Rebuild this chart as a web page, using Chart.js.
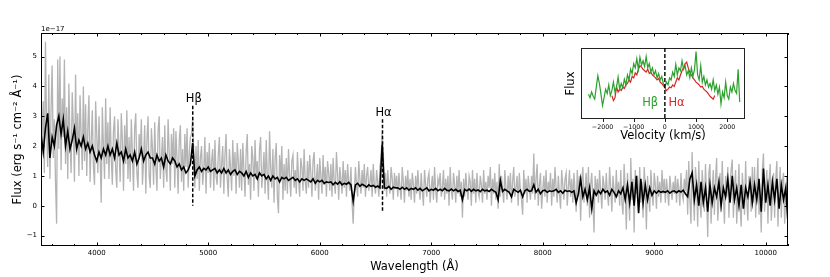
<!DOCTYPE html>
<html>
<head>
<meta charset="utf-8">
<script src="https://cdn.jsdelivr.net/npm/chart.js@4.4.1/dist/chart.umd.min.js"></script>
<style>
  body { margin: 0; background: #fff; }
  #wrap { position: relative; width: 830px; height: 277px; }
  #main { position: absolute; left: 0; top: 0; }
  #inset { position: absolute; left: 555px; top: 40px; }
</style>
</head>
<body>
<div id="wrap">
  <canvas id="main" width="830" height="277"></canvas>
  <canvas id="inset" width="200" height="104"></canvas>
</div>
<script>
const FONT = '"DejaVu Sans", sans-serif';

const WAVE_START = 3500;
const RAW_STEP = 10;     // raw spectrum every 10 A
const SMOOTH_STEP = 20;  // smoothed spectrum every 20 A

// raw flux (1e-17 erg/s/cm2/A), grey; one row = 200 A
const rawFlux = [
  4.1, 2.0, 3.5, 1.1, 5.5, 2.6, 1.3, 4.4, 0.9, 3.2, 4.7, 1.6, 2.9, 0.8, -0.6, 4.9, 1.9, 5.0, 1.2, 3.6,   // 3500
  2.3, 4.9, 1.4, 3.3, 0.9, 4.1, 2.2, 1.1, 3.8, 2.7, 0.8, 4.4, 1.7, 3.1, 1.0, 3.7, 2.4, 1.2, 4.0, 1.5,    // 3700
  3.4, 1.0, 2.6, 3.7, 0.8, 2.1, 3.2, 1.3, 0.7, 3.5, 2.4, 1.1, 3.0, 1.7, 0.1, 3.3, 2.0, 0.9, 3.6, 1.4,    // 3900
  2.8, 0.9, 3.3, 1.6, 0.7, 2.5, 3.0, 1.2, 0.6, 2.9, 1.9, 0.8, 3.1, 2.2, 0.5, 2.7, 1.4, 3.2, 0.9, 2.3,    // 4100
  0.8, 2.9, 1.7, 0.5, 2.6, 3.1, 1.1, 0.6, 2.4, 1.8, 2.9, 0.7, 1.5, 2.7, 0.4, 2.2, 3.0, 1.0, 0.6, 2.6,    // 4300
  1.9, 0.7, 2.8, 1.3, 0.5, 2.5, 3.0, 0.9, 1.6, 2.3, 0.6, 2.7, 1.2, 0.8, 2.9, 1.8, 0.5, 2.4, 1.4, 2.6,    // 4500
  0.6, 2.5, 1.6, 0.4, 2.2, 2.7, 0.8, 1.9, 0.5, 2.4, 1.3, 2.6, 0.6, 1.8, 2.3, 2.4, 2.9, 1.8, 0.6, 2.0,    // 4700
  0.9, 2.2, 0.5, 1.6, 2.0, 0.7, 1.2, 2.3, 0.4, 1.8, 1.1, 2.1, 0.6, 1.5, 1.9, 0.5, 2.2, 1.0, 0.7, 1.7,    // 4900
  2.3, 0.6, 1.4, 2.0, 0.4, 1.7, 2.4, 0.9, 0.3, 1.9, 1.3, 0.5, 2.2, 1.0, 1.8, 0.4, 2.1, 1.5, 0.6, 1.9,    // 5100
  0.5, 2.1, 1.2, 0.3, 1.8, 2.4, 0.7, 1.4, 0.2, 2.0, 1.6, 0.5, 2.2, 0.9, 1.5, 0.3, 1.9, 2.3, 0.6, 1.1,    // 5300
  1.8, 0.4, 2.2, 1.0, 0.2, 2.5, 1.3, 0.6, 1.9, 0.1, 1.6, 2.1, 0.3, -0.25, 1.7, 0.9, 2.0, 0.2, 1.4, 0.5,  // 5500
  1.6, 0.4, 1.9, 1.0, 0.3, 1.5, 1.7, 0.6, 1.2, 0.4, 1.8, 0.9, 0.3, 1.6, 1.3, 0.5, 1.9, 0.8, 0.4, 1.5,    // 5700
  0.6, 1.7, 1.1, 0.3, 1.5, 1.8, 0.5, 0.9, 1.4, 0.2, 1.6, 1.0, 0.4, 1.7, 0.7, 1.3, 0.3, 1.5, 1.1, 0.5,    // 5900
  1.4, 0.3, 1.6, 0.8, 0.4, 1.8, 1.1, 0.2, 1.3, 0.9, 0.4, 1.5, 0.6, 1.2, 0.3, 1.4, 0.8, 0.5, 1.3, 0.1,    // 6100
  -0.6, 0.4, 1.3, 0.7, 0.3, 1.5, 0.9, 0.4, 1.2, 0.6, 1.4, 0.3, 1.0, 1.3, 0.5, 0.8, 1.2, 0.3, 1.4, 0.7,   // 6300
  0.4, 1.2, 0.8, 0.3, 1.3, 1.6, 2.45, 1.8, 0.5, 1.1, 0.3, 1.2, 0.7, 0.4, 1.3, 0.9, 0.2, 1.1, 0.6, 1.0,   // 6500
  0.3, 1.1, 0.6, 0.2, 1.3, 0.8, 0.1, 1.0, 0.5, 1.2, 0.3, 0.9, 0.2, 1.1, 0.7, 0.1, 1.0, 0.4, 1.2, 0.6,    // 6700
  0.2, 1.1, 0.5, 0.0, 1.2, 0.7, 0.3, 0.9, 1.1, 0.1, 0.6, 1.0, 0.2, 1.3, 0.5, 0.1, 0.9, 0.7, 1.1, 0.3,    // 6900
  0.6, 1.2, 0.2, 0.9, 0.4, 1.0, 0.0, 1.3, 0.5, 0.2, 1.1, 0.7, 0.1, 1.0, 0.4, 1.2, 0.3, 0.8, -0.4, 0.9,   // 7100
  0.3, 1.1, 0.6, 0.2, 1.0, 0.8, 0.0, 1.2, 0.4, 0.9, 0.1, 1.1, 0.5, 0.3, 1.0, 0.7, 0.1, 1.2, 0.4, 0.8,    // 7300
  0.2, 1.0, 0.6, 1.3, 0.0, 0.9, 0.4, 1.1, 0.2, 0.8, -0.1, 1.4, 0.3, 1.0, 0.5, 0.1, 1.2, 0.6, 0.2, 1.0,   // 7500
  0.4, 1.1, 0.1, 0.8, 1.3, 0.3, 0.6, 1.0, 0.0, 1.1, 0.5, 0.2, -0.3, 1.2, 0.4, 0.9, 0.1, 1.0, 0.6, 0.2,   // 7700
  1.0, 0.4, 1.75, 0.2, 0.9, 1.4, 0.0, 0.7, 1.1, -0.1, 0.5, 1.0, 0.3, 1.2, 0.1, 0.8, 0.5, 1.1, 0.0, 0.9,  // 7900
  0.3, 1.3, 0.6, 0.1, 1.0, 0.4, -0.1, 1.2, 0.7, 0.2, 0.9, 1.1, 0.0, 0.6, 1.2, 0.3, 0.9, 0.1, 1.1, 0.5,   // 8100
  -0.2, 1.2, 0.4, 1.0, -0.5, 0.8, 1.3, 0.1, 0.6, 1.1, 0.0, 1.3, -0.4, 0.7, 1.1, 0.2, -0.9, 1.0, 0.4, 0.9, // 8300
  0.1, 1.2, 0.5, -0.1, 1.0, 0.7, 0.2, 1.1, 0.4, 0.0, 1.3, 0.6, -0.2, 1.0, 0.5, 0.1, 1.2, 0.3, 0.8, 0.0,  // 8500
  1.2, 0.1, -0.3, 1.4, 0.5, -0.8, 1.1, 0.3, -0.5, 1.6, 0.2, 0.9, -0.9, 1.2, 0.4, 1.0, -0.2, 1.3, 0.1, 0.8, // 8700
  -0.4, 1.3, 0.6, -0.8, 1.0, 0.3, -0.2, 1.2, 0.5, 0.0, 1.1, 0.7, -0.1, 1.0, 0.3, 0.8, 0.1, 1.2, 0.4, 0.9, // 8900
  0.1, 0.9, 0.5, 0.0, 1.0, 0.6, 0.2, 0.8, 0.4, 1.0, 0.1, 0.9, 0.6, 0.0, 1.1, 0.4, 0.2, 0.9, 0.5, 1.2,    // 9100
  -0.3, 1.5, 0.2, -0.6, 1.8, 0.4, -0.5, 1.3, 0.8, -0.7, 1.5, 0.1, -0.4, 1.2, 0.6, -0.2, 1.4, 0.3, -1.05, 1.1, // 9300
  1.4, -0.6, 0.5, 1.2, -0.3, 0.9, 1.6, -0.5, 0.2, 1.1, -0.2, 1.5, 0.4, -0.6, 1.0, 0.3, 1.3, -0.4, 0.7, 1.2, // 9500
  1.55, -0.4, 0.6, 1.2, -0.6, 0.3, 1.4, 0.0, -0.7, 1.1, 0.5, -0.3, 1.5, 0.2, -0.5, 1.0, 0.6, -0.2, 1.3, 0.1, // 9700
  1.3, -0.4, 0.7, 1.6, -0.3, 0.4, -0.9, 1.2, 1.75, -0.2, 0.5, 1.2, -0.6, 0.8, 1.4, -0.5, 0.3, 1.1, -0.4, 0.9, // 9900
  1.5, -0.7, 0.6, 1.3, -0.4, 0.8, 1.1, -0.6, 0.4, 1.0, -1.0                                              // 10100
];

// smoothed flux, black; one row = 200 A
const smoothFlux = [
  2.4, 1.8, 2.6, 3.1, 1.6, 2.3, 2.0, 2.7, 3.0, 2.4,    // 3500
  2.9, 2.0, 2.5, 1.9, 2.2, 2.6, 1.9, 2.2, 2.0, 2.3,    // 3700
  1.9, 2.1, 1.8, 2.0, 1.7, 1.5, 1.8, 1.6, 1.9, 1.7,    // 3900
  2.0, 1.7, 1.9, 1.6, 2.1, 1.7, 1.8, 1.5, 1.9, 1.6,    // 4100
  1.7, 1.5, 1.8, 1.4, 1.6, 1.9, 1.5, 1.7, 1.8, 1.6,    // 4300
  1.6, 1.4, 1.7, 1.5, 1.6, 1.3, 1.7, 1.5, 1.4, 1.6,    // 4500
  1.5, 1.3, 1.4, 1.2, 1.3, 1.1, 1.2, 1.4, 2.1, 1.0,    // 4700
  1.2, 1.3, 1.15, 1.25, 1.2, 1.3, 1.15, 1.2, 1.25, 1.1, // 4900
  1.2, 1.1, 1.25, 1.1, 1.2, 1.05, 1.15, 1.2, 1.05, 1.15, // 5100
  1.1, 1.0, 1.15, 0.95, 1.1, 1.0, 1.05, 0.9, 1.1, 1.0, // 5300
  1.05, 0.9, 1.0, 0.85, 1.0, 0.9, 0.95, 0.8, 0.95, 0.9, // 5500
  0.95, 0.85, 0.9, 0.95, 0.85, 0.9, 0.8, 0.9, 0.85, 0.9, // 5700
  0.85, 0.8, 0.9, 0.75, 0.85, 0.8, 0.85, 0.75, 0.8, 0.78, // 5900
  0.8, 0.7, 0.78, 0.72, 0.8, 0.7, 0.75, 0.72, 0.78, 0.7, // 6100
  0.15, 0.7, 0.75, 0.65, 0.72, 0.68, 0.62, 0.7, 0.65, 0.68, // 6300
  0.62, 0.66, 0.6, 2.05, 0.6, 0.58, 0.65, 0.55, 0.62, 0.6, // 6500
  0.6, 0.55, 0.62, 0.55, 0.6, 0.52, 0.58, 0.55, 0.6, 0.52, // 6700
  0.58, 0.5, 0.55, 0.6, 0.5, 0.55, 0.52, 0.58, 0.5, 0.55, // 6900
  0.5, 0.58, 0.52, 0.5, 0.56, 0.5, 0.55, 0.48, 0.52, 0.2, // 7100
  0.55, 0.5, 0.56, 0.48, 0.55, 0.5, 0.53, 0.47, 0.55, 0.5, // 7300
  0.52, 0.48, 0.55, 0.5, 0.45, 0.2, 0.85, 0.48, 0.55, 0.5, // 7500
  0.45, 0.3, 0.55, 0.5, 0.45, 0.52, 0.3, 0.5, 0.55, 0.48, // 7700
  0.5, 0.7, 0.45, 0.55, 0.4, 0.5, 0.52, 0.45, 0.5, 0.48, // 7900
  0.5, 0.55, 0.45, 0.5, 0.42, 0.52, 0.48, 0.5, 0.45, 0.5, // 8100
  0.1, 0.4, 0.9, 0.3, 0.55, 0.2, 0.6, -0.1, 0.5, 0.35, // 8300
  0.5, 0.4, 0.55, 0.45, 0.5, 0.35, 0.55, 0.45, 0.3, 0.5, // 8500
  0.4, 0.6, 0.2, 0.7, 0.1, 0.8, 0.0, 1.0, -0.25, 0.9,  // 8700
  0.1, 0.7, 0.2, 0.6, 0.35, 0.5, 0.42, 0.5, 0.45, 0.48, // 8900
  0.45, 0.5, 0.42, 0.48, 0.5, 0.44, 0.5, 0.46, 0.52, 0.4, // 9100
  0.3, 0.9, 1.1, 0.2, 0.7, 0.0, 0.8, 0.1, 0.6, -0.2,   // 9300
  0.7, 0.1, 0.6, 0.3, 0.8, 0.0, 0.6, 0.3, 0.9, 0.1,    // 9500
  1.0, 0.2, 0.6, 0.0, 0.7, -0.1, 0.6, 0.3, 0.8, 0.1,   // 9700
  0.7, 0.2, 0.9, -0.2, 1.25, 0.1, 0.7, 0.0, 0.8, 0.2,  // 9900
  0.9, -0.1, 0.7, 0.2, 0.6, -0.6                        // 10100
];

const WAVE_TICKS = [4000, 5000, 6000, 7000, 8000, 9000, 10000];
const WAVE_MINOR = 200;
const FLUX_TICKS = [-1, 0, 1, 2, 3, 4, 5];

// emission line markers
const lineNames = ['Hβ', 'Hα'];
const lineWaves = [4861, 6563];
const lineTops = [3.35, 2.9];
const lineBottoms = [0, -0.2];

// inset: velocity profiles (normalised flux), 50 km/s steps
const VEL_STEP = 50;
const hbetaStart = -2450;
const hbetaProfile = [
  0.35, 0.30, 0.38, 0.32, 0.28, 0.45, 0.61, 0.50, 0.35, 0.19,
  0.30, 0.42, 0.36, 0.48, 0.33, 0.40, 0.52, 0.38, 0.45, 0.59,
  0.42, 0.50, 0.44, 0.56, 0.48, 0.62, 0.55, 0.70, 0.64, 0.78,
  0.72, 0.85, 0.70, 0.87, 0.76, 0.82, 0.74, 0.88, 0.72, 0.78,
  0.66, 0.72, 0.62, 0.68, 0.58, 0.64, 0.55, 0.60, 0.50, 0.45,
  0.52, 0.48, 0.58, 0.55, 0.66, 0.60, 0.77, 0.62, 0.72, 0.68,
  0.82, 0.70, 0.75, 0.62, 0.68, 0.58, 0.72, 0.60, 0.70, 0.95,
  0.62, 0.55, 0.75, 0.52, 0.60, 0.48, 0.55, 0.45, 0.50, 0.42,
  0.55, 0.40, 0.48, 0.35, 0.45, 0.21, 0.38, 0.30, 0.52, 0.33,
  0.28, 0.45, 0.38, 0.50, 0.40, 0.36, 0.70, 0.24
];
const halphaStart = -1700;
const halphaProfile = [
  0.33, 0.26, 0.30, 0.45, 0.38, 0.42, 0.40, 0.45, 0.43, 0.48,
  0.50, 0.55, 0.52, 0.60, 0.58, 0.65, 0.62, 0.70, 0.75, 0.73,
  0.70, 0.68, 0.66, 0.70, 0.64, 0.66, 0.62, 0.60, 0.58, 0.55,
  0.57, 0.52, 0.50, 0.47, 0.44, 0.40, 0.42, 0.45, 0.44, 0.48,
  0.46, 0.52, 0.58, 0.55, 0.62, 0.68, 0.72, 0.78, 0.80, 0.72,
  0.66, 0.62, 0.58, 0.55, 0.52, 0.50, 0.48, 0.45, 0.46, 0.42,
  0.40, 0.38, 0.35, 0.32, 0.30, 0.28, 0.33
];
const VEL_TICKS = [-2000, -1000, 0, 1000, 2000];
const insetLabels = ['Hβ', 'Hα'];
const insetLabelVel = [-470, 375];
const insetLabelColors = ['#2ca02c', '#d62728'];

const toPoints = (start, step, values) => values.map((v, i) => ({ x: start + i * step, y: v }));
const minus = v => String(v).replace('-', '\u2212');

const whiteBg = {
  id: 'whiteBg',
  beforeDraw(chart) {
    const { ctx, width, height } = chart;
    ctx.save();
    ctx.fillStyle = '#fff';
    ctx.fillRect(0, 0, width, height);
    ctx.restore();
  }
};

// inward ticks on all four sides + frame
const mainFrame = {
  id: 'mainFrame',
  afterDatasetsDraw(chart) {
    const { ctx, chartArea: a, scales: { x, y } } = chart;
    ctx.save();
    ctx.strokeStyle = '#000';
    ctx.lineWidth = 1;
    ctx.beginPath();
    for (let w = Math.ceil(x.min / WAVE_MINOR) * WAVE_MINOR; w <= x.max; w += WAVE_MINOR) {
      const px = Math.round(x.getPixelForValue(w)) + 0.5;
      const len = WAVE_TICKS.includes(w) ? 3.5 : 2;
      ctx.moveTo(px, a.bottom); ctx.lineTo(px, a.bottom - len);
      ctx.moveTo(px, a.top); ctx.lineTo(px, a.top + len);
    }
    FLUX_TICKS.forEach(f => {
      const py = Math.round(y.getPixelForValue(f)) + 0.5;
      ctx.moveTo(a.left, py); ctx.lineTo(a.left + 3.5, py);
      ctx.moveTo(a.right, py); ctx.lineTo(a.right - 3.5, py);
    });
    ctx.stroke();
    ctx.strokeRect(a.left + 0.5, a.top + 0.5, a.right - a.left - 1, a.bottom - a.top - 1);

    // emission line markers
    ctx.setLineDash([3.5, 2]);
    ctx.lineWidth = 1.5;
    ctx.fillStyle = '#000';
    ctx.font = '11.5px ' + FONT;
    ctx.textAlign = 'center';
    ctx.textBaseline = 'alphabetic';
    lineNames.forEach((name, i) => {
      const px = x.getPixelForValue(lineWaves[i]);
      const top = y.getPixelForValue(lineTops[i]);
      ctx.beginPath();
      ctx.moveTo(px, top);
      ctx.lineTo(px, y.getPixelForValue(lineBottoms[i]));
      ctx.stroke();
      ctx.fillText(name, px + 1, top - 3.5);
    });
    ctx.setLineDash([]);

    // offset text
    ctx.font = '7px ' + FONT;
    ctx.textAlign = 'left';
    ctx.fillText('1e\u221217', a.left, a.top - 2);
    ctx.restore();
  }
};

new Chart(document.getElementById('main'), {
  type: 'line',
  data: {
    datasets: [
      { label: 'smoothed', data: toPoints(WAVE_START, SMOOTH_STEP, smoothFlux), borderColor: '#000', borderWidth: 1.6, pointRadius: 0, order: 0 },
      { label: 'raw', data: toPoints(WAVE_START, RAW_STEP, rawFlux), borderColor: 'rgb(180,180,180)', borderWidth: 1.3, pointRadius: 0, order: 1 }
    ]
  },
  options: {
    responsive: false,
    animation: false,
    devicePixelRatio: 1,
    layout: { padding: { left: 0, right: 42, top: 33, bottom: 0 } },
    plugins: { legend: { display: false }, tooltip: { enabled: false } },
    scales: {
      x: {
        type: 'linear', min: 3500, max: 10200,
        grid: { display: false, drawTicks: false },
        border: { display: false },
        afterBuildTicks: s => { s.ticks = WAVE_TICKS.map(v => ({ value: v })); },
        afterFit: s => { s.height = 31; },
        ticks: { font: { family: FONT, size: 7 }, color: '#000', padding: 3, maxRotation: 0, callback: v => String(v) },
        title: { display: true, text: 'Wavelength (Å)', color: '#000', font: { family: FONT, size: 11.5 }, padding: { top: 0, bottom: 3 } }
      },
      y: {
        type: 'linear', min: -1.35, max: 5.79,
        grid: { display: false, drawTicks: false },
        border: { display: false },
        afterBuildTicks: s => { s.ticks = FLUX_TICKS.map(v => ({ value: v })); },
        afterFit: s => { s.width = 41; },
        ticks: { font: { family: FONT, size: 7 }, color: '#000', padding: 4, callback: v => minus(v) },
        title: { display: true, text: 'Flux (erg s⁻¹ cm⁻² Å⁻¹)', color: '#000', font: { family: FONT, size: 11.5 }, padding: { top: 11, bottom: 0 } }
      }
    }
  },
  plugins: [whiteBg, mainFrame]
});

// inset frame, outward bottom ticks, zero line and labels
const insetFrame = {
  id: 'insetFrame',
  afterDatasetsDraw(chart) {
    const { ctx, chartArea: a, scales: { x, y } } = chart;
    ctx.save();
    ctx.strokeStyle = '#222';
    ctx.lineWidth = 1;
    ctx.strokeRect(a.left + 0.5, a.top + 0.5, a.right - a.left - 1, a.bottom - a.top - 1);
    ctx.beginPath();
    VEL_TICKS.forEach(v => {
      const px = Math.round(x.getPixelForValue(v)) + 0.5;
      ctx.moveTo(px, a.bottom); ctx.lineTo(px, a.bottom + 3);
    });
    ctx.stroke();
    ctx.strokeStyle = '#000';
    ctx.lineWidth = 1.4;
    ctx.setLineDash([4, 2]);
    ctx.beginPath();
    const zx = x.getPixelForValue(0);
    ctx.moveTo(zx, a.top); ctx.lineTo(zx, a.bottom);
    ctx.stroke();
    ctx.setLineDash([]);
    ctx.font = '11.5px ' + FONT;
    ctx.textAlign = 'center';
    ctx.textBaseline = 'alphabetic';
    insetLabels.forEach((t, i) => {
      ctx.fillStyle = insetLabelColors[i];
      ctx.fillText(t, x.getPixelForValue(insetLabelVel[i]), y.getPixelForValue(0.19));
    });
    ctx.restore();
  }
};

new Chart(document.getElementById('inset'), {
  type: 'line',
  data: {
    datasets: [
      { label: 'Hα', data: toPoints(halphaStart, VEL_STEP, halphaProfile), borderColor: '#d62728', borderWidth: 1.2, pointRadius: 0, order: 1 },
      { label: 'Hβ', data: toPoints(hbetaStart, VEL_STEP, hbetaProfile), borderColor: '#2ca02c', borderWidth: 1.2, pointRadius: 0, order: 0 }
    ]
  },
  options: {
    responsive: false,
    animation: false,
    devicePixelRatio: 1,
    layout: { padding: { left: 0, right: 10, top: 8, bottom: 0 } },
    plugins: { legend: { display: false }, tooltip: { enabled: false } },
    scales: {
      x: {
        type: 'linear', min: -2690, max: 2570,
        grid: { display: false, drawTicks: false },
        border: { display: false },
        afterBuildTicks: s => { s.ticks = VEL_TICKS.map(v => ({ value: v })); },
        afterFit: s => { s.height = 25; },
        ticks: { font: { family: FONT, size: 6.3 }, color: '#000', padding: 5, maxRotation: 0, callback: v => minus(v) },
        title: { display: true, text: 'Velocity (km/s)', color: '#000', font: { family: FONT, size: 11.5 }, padding: { top: 0, bottom: 1 } }
      },
      y: {
        type: 'linear', min: 0, max: 1,
        grid: { display: false, drawTicks: false },
        border: { display: false },
        ticks: { display: false },
        afterFit: s => { s.width = 26; },
        title: { display: true, text: 'Flux', color: '#000', font: { family: FONT, size: 11.5 }, padding: { top: 9, bottom: 0 } }
      }
    }
  },
  plugins: [insetFrame]
});
</script>
</body>
</html>
